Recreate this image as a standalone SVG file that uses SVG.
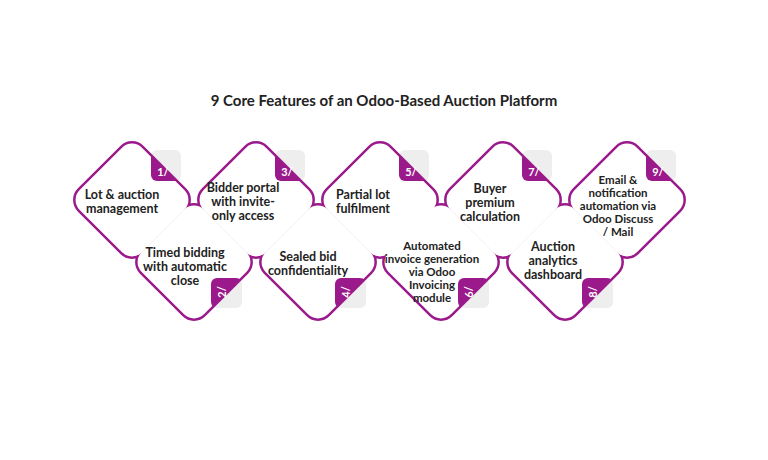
<svg xmlns="http://www.w3.org/2000/svg" width="768" height="460" viewBox="0 0 768 460">
<defs>
<rect id="d" x="-44" y="-44" width="88" height="88" rx="14" transform="rotate(45)"/>
<clipPath id="c"><use href="#d"/></clipPath>
<clipPath id="bo"><rect x="19" y="-50" width="30" height="31" rx="6"/></clipPath>
<clipPath id="be"><rect x="17" y="16" width="31" height="30" rx="6"/></clipPath>
<style>
.t{font-family:Lato,"Liberation Sans",sans-serif;font-weight:bold;font-size:12.5px;fill:#222;text-anchor:middle}
.t2{font-family:Lato,"Liberation Sans",sans-serif;font-weight:bold;font-size:11.5px;fill:#222;text-anchor:middle}
.n{font-family:Lato,"Liberation Sans",sans-serif;font-weight:bold;font-size:11px;fill:#fff;text-anchor:middle}
.s{fill:none;stroke:#9b1a8b;stroke-width:5}
.s2{fill:none;stroke:#9b1a8b;stroke-width:2.5}
.f{fill:#fff}
.g{fill:#eeeeee}
.p{fill:#9b1a8b}
</style>
</defs>
<rect width="768" height="460" fill="#fff"/>
<text x="384" y="106" font-family="Lato,'Liberation Sans',sans-serif" font-weight="bold" font-size="15" fill="#222" text-anchor="middle">9 Core Features of an Odoo-Based Auction Platform</text>
<g id="greys">
<rect class="g" x="151" y="150" width="30" height="31" rx="6"/>
<rect class="g" x="275" y="150" width="30" height="31" rx="6"/>
<rect class="g" x="399" y="150" width="30" height="31" rx="6"/>
<rect class="g" x="522" y="150" width="30" height="31" rx="6"/>
<rect class="g" x="646" y="150" width="30" height="31" rx="6"/>
<rect class="g" x="211" y="278" width="31" height="30" rx="6"/>
<rect class="g" x="335" y="278" width="31" height="30" rx="6"/>
<rect class="g" x="458" y="278" width="31" height="30" rx="6"/>
<rect class="g" x="582" y="278" width="31" height="30" rx="6"/>
</g>
<g id="outlines">
<use href="#d" class="s" x="132" y="200"/>
<use href="#d" class="s" x="194" y="262"/>
<use href="#d" class="s" x="256" y="200"/>
<use href="#d" class="s" x="318" y="262"/>
<use href="#d" class="s" x="380" y="200"/>
<use href="#d" class="s" x="441" y="262"/>
<use href="#d" class="s" x="503" y="200"/>
<use href="#d" class="s" x="565" y="262"/>
<use href="#d" class="s" x="627" y="200"/>
</g>
<g id="fills">
<use href="#d" class="f" x="132" y="200"/>
<use href="#d" class="f" x="194" y="262"/>
<use href="#d" class="f" x="256" y="200"/>
<use href="#d" class="f" x="318" y="262"/>
<use href="#d" class="f" x="380" y="200"/>
<use href="#d" class="f" x="441" y="262"/>
<use href="#d" class="f" x="503" y="200"/>
<use href="#d" class="f" x="565" y="262"/>
<use href="#d" class="f" x="627" y="200"/>
</g>
<g id="n1"><g transform="translate(132,200)"><rect class="p" x="19" y="-50" width="30" height="31" rx="6" clip-path="url(#c)"/><use href="#d" class="s2" clip-path="url(#bo)"/><text class="n" x="31" y="-24">1/</text></g>
<text class="t" x="122" y="199">Lot &amp; auction</text><text class="t" x="122" y="213">management</text></g>
<g id="n2"><g transform="translate(194,262)"><rect class="p" x="17" y="16" width="31" height="30" rx="6" clip-path="url(#c)"/><use href="#d" class="s2" clip-path="url(#be)"/><text class="n" transform="translate(32,30) rotate(-90)">2/</text></g>
<text class="t" x="185" y="257">Timed bidding</text><text class="t" x="185" y="271">with automatic</text><text class="t" x="185" y="285">close</text></g>
<g id="n3"><g transform="translate(256,200)"><rect class="p" x="19" y="-50" width="30" height="31" rx="6" clip-path="url(#c)"/><use href="#d" class="s2" clip-path="url(#bo)"/><text class="n" x="31" y="-24">3/</text></g>
<text class="t" x="243" y="192">Bidder portal</text><text class="t" x="243" y="206">with invite-</text><text class="t" x="243" y="220">only access</text></g>
<g id="n4"><g transform="translate(318,262)"><rect class="p" x="17" y="16" width="31" height="30" rx="6" clip-path="url(#c)"/><use href="#d" class="s2" clip-path="url(#be)"/><text class="n" transform="translate(32,30) rotate(-90)">4/</text></g>
<text class="t" x="308" y="261">Sealed bid</text><text class="t" x="308" y="275">confidentiality</text></g>
<g id="n5"><g transform="translate(380,200)"><rect class="p" x="19" y="-50" width="30" height="31" rx="6" clip-path="url(#c)"/><use href="#d" class="s2" clip-path="url(#bo)"/><text class="n" x="31" y="-24">5/</text></g>
<text class="t" x="363" y="199">Partial lot</text><text class="t" x="363" y="213">fulfilment</text></g>
<g id="n6"><g transform="translate(441,262)"><rect class="p" x="17" y="16" width="31" height="30" rx="6" clip-path="url(#c)"/><use href="#d" class="s2" clip-path="url(#be)"/><text class="n" transform="translate(32,30) rotate(-90)">6/</text></g>
<text class="t2" x="432" y="250">Automated</text><text class="t2" x="432" y="263">invoice generation</text><text class="t2" x="432" y="276">via Odoo</text><text class="t2" x="432" y="289">Invoicing</text><text class="t2" x="432" y="302">module</text></g>
<g id="n7"><g transform="translate(503,200)"><rect class="p" x="19" y="-50" width="30" height="31" rx="6" clip-path="url(#c)"/><use href="#d" class="s2" clip-path="url(#bo)"/><text class="n" x="31" y="-24">7/</text></g>
<text class="t" x="490" y="193">Buyer</text><text class="t" x="490" y="207">premium</text><text class="t" x="490" y="221">calculation</text></g>
<g id="n8"><g transform="translate(565,262)"><rect class="p" x="17" y="16" width="31" height="30" rx="6" clip-path="url(#c)"/><use href="#d" class="s2" clip-path="url(#be)"/><text class="n" transform="translate(32,30) rotate(-90)">8/</text></g>
<text class="t" x="553" y="251">Auction</text><text class="t" x="553" y="265">analytics</text><text class="t" x="553" y="279">dashboard</text></g>
<g id="n9"><g transform="translate(627,200)"><rect class="p" x="19" y="-50" width="30" height="31" rx="6" clip-path="url(#c)"/><use href="#d" class="s2" clip-path="url(#bo)"/><text class="n" x="31" y="-24">9/</text></g>
<text class="t2" x="618" y="184">Email &amp;</text><text class="t2" x="618" y="197">notification</text><text class="t2" x="618" y="210">automation via</text><text class="t2" x="618" y="223">Odoo Discuss</text><text class="t2" x="618" y="236">/ Mail</text></g>
</svg>
